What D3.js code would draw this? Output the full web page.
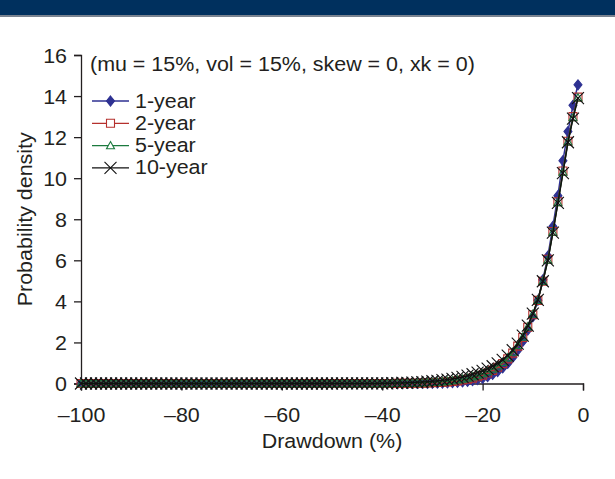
<!DOCTYPE html>
<html>
<head>
<meta charset="utf-8">
<script src="https://cdn.jsdelivr.net/npm/d3@7"></script>
<style>
  html, body { margin: 0; padding: 0; background: #ffffff; }
  svg { display: block; }
  text { font-family: "Liberation Sans", Arial, Helvetica, sans-serif; fill: #231f20; }
</style>
</head>
<body>
<svg id="chart" width="615" height="479"></svg>
<script>
// ---------------- DATA ----------------
const drawdown = [
  -1, -2, -3, -4, -5, -6, -7, -8, -9, -10,
  -11, -12, -13, -14, -15, -16, -17, -18, -19, -20,
  -21, -22, -23, -24, -25, -26, -27, -28, -29, -30,
  -31, -32, -33, -34, -35, -36, -37, -38, -39, -40,
  -41, -42, -43, -44, -45, -46, -47, -48, -49, -50,
  -51, -52, -53, -54, -55, -56, -57, -58, -59, -60,
  -61, -62, -63, -64, -65, -66, -67, -68, -69, -70,
  -71, -72, -73, -74, -75, -76, -77, -78, -79, -80,
  -81, -82, -83, -84, -85, -86, -87, -88, -89, -90,
  -91, -92, -93, -94, -95, -96, -97, -98, -99, -100
];
const year1 = [
  14.55, 13.55, 12.27, 10.85, 9.15, 7.65, 6.2, 5.05, 4.05, 3.25,
  2.6, 2.05, 1.62, 1.27, 0.98, 0.76, 0.58, 0.44, 0.33, 0.25,
  0.19, 0.14, 0.1, 0.075, 0.055, 0.04, 0.028, 0.02, 0.014, 0.01,
  0.007, 0.005, 0.003, 0.002, 0.001, 0, 0, 0, 0, 0,
  0, 0, 0, 0, 0, 0, 0, 0, 0, 0,
  0, 0, 0, 0, 0, 0, 0, 0, 0, 0,
  0, 0, 0, 0, 0, 0, 0, 0, 0, 0,
  0, 0, 0, 0, 0, 0, 0, 0, 0, 0,
  0, 0, 0, 0, 0, 0, 0, 0, 0, 0,
  0, 0, 0, 0, 0, 0, 0, 0, 0, 0
];
const year2 = [
  13.95, 13.0, 11.8, 10.35, 8.85, 7.4, 6.05, 4.98, 4.05, 3.35,
  2.74, 2.24, 1.82, 1.48, 1.2, 0.97, 0.79, 0.64, 0.51, 0.41,
  0.33, 0.26, 0.21, 0.17, 0.13, 0.1, 0.08, 0.06, 0.047, 0.036,
  0.027, 0.02, 0.015, 0.011, 0.008, 0.006, 0.004, 0.003, 0.002, 0.001,
  0, 0, 0, 0, 0, 0, 0, 0, 0, 0,
  0, 0, 0, 0, 0, 0, 0, 0, 0, 0,
  0, 0, 0, 0, 0, 0, 0, 0, 0, 0,
  0, 0, 0, 0, 0, 0, 0, 0, 0, 0,
  0, 0, 0, 0, 0, 0, 0, 0, 0, 0,
  0, 0, 0, 0, 0, 0, 0, 0, 0, 0
];
const year5 = [
  13.92, 12.95, 11.78, 10.3, 8.82, 7.38, 6.02, 4.98, 4.06, 3.38,
  2.77, 2.27, 1.86, 1.53, 1.26, 1.03, 0.86, 0.71, 0.59, 0.49,
  0.4, 0.33, 0.27, 0.22, 0.18, 0.145, 0.115, 0.09, 0.072, 0.057,
  0.045, 0.035, 0.027, 0.021, 0.016, 0.012, 0.009, 0.007, 0.005, 0.004,
  0.003, 0.002, 0.001, 0, 0, 0, 0, 0, 0, 0,
  0, 0, 0, 0, 0, 0, 0, 0, 0, 0,
  0, 0, 0, 0, 0, 0, 0, 0, 0, 0,
  0, 0, 0, 0, 0, 0, 0, 0, 0, 0,
  0, 0, 0, 0, 0, 0, 0, 0, 0, 0,
  0, 0, 0, 0, 0, 0, 0, 0, 0, 0
];
const year10 = [
  13.9, 12.9, 11.75, 10.25, 8.8, 7.35, 6.0, 4.98, 4.07, 3.4,
  2.82, 2.33, 1.94, 1.62, 1.36, 1.15, 0.98, 0.84, 0.72, 0.62,
  0.53, 0.45, 0.38, 0.32, 0.27, 0.23, 0.19, 0.16, 0.13, 0.11,
  0.09, 0.07, 0.055, 0.045, 0.035, 0.027, 0.02, 0.015, 0.011, 0.008,
  0.006, 0.005, 0.004, 0.003, 0.002, 0.002, 0.001, 0.001, 0.001, 0,
  0, 0, 0, 0, 0, 0, 0, 0, 0, 0,
  0, 0, 0, 0, 0, 0, 0, 0, 0, 0,
  0, 0, 0, 0, 0, 0, 0, 0, 0, 0,
  0, 0, 0, 0, 0, 0, 0, 0, 0, 0,
  0, 0, 0, 0, 0, 0, 0, 0, 0, 0
];
const seriesNames = ["1-year", "2-year", "5-year", "10-year"];
const xTicks = [-100, -80, -60, -40, -20, 0];
const yTicks = [0, 2, 4, 6, 8, 10, 12, 14, 16];
const annotation = "(mu = 15%, vol = 15%, skew = 0, xk = 0)";
const xTitle = "Drawdown (%)";
const yTitle = "Probability density";

// ---------------- STYLE ----------------
const seriesValues = [year1, year2, year5, year10];
const colors = ["#2e3192", "#b5302d", "#1b7a3e", "#111111"];
const markerPaths = [
  "M0,-5L4,0L0,5L-4,0Z",           // diamond
  "M-4,-4H4V4H-4Z",                 // square
  "M0,-4L4,3.2L-4,3.2Z",            // triangle
  "M-6,-6L6,6M-6,6L6,-6"            // X
];
const markerFill = ["#2e3192", "none", "none", "none"];
const SX = 1.1;        // horizontal text stretch
const FS = 19.5;       // font size

const svg = d3.select("#chart");

// header band
svg.append("rect").attr("x", 0).attr("y", 0).attr("width", 615).attr("height", 15).attr("fill", "#00305e");
svg.append("rect").attr("x", 0).attr("y", 15).attr("width", 615).attr("height", 2).attr("fill", "#7a8390");

const x = d3.scaleLinear().domain([-100, 0]).range([81, 583]);
const y = d3.scaleLinear().domain([0, 16]).range([383.5, 55]);

// axes
const xAxis = svg.append("g")
  .attr("transform", `translate(0,${y(0)})`)
  .call(d3.axisBottom(x).tickValues(xTicks).tickSize(7)
        .tickFormat(d => d < 0 ? "\u2013" + Math.abs(d) : String(d)));
xAxis.select(".domain").attr("stroke", "#231f20").attr("stroke-width", 1.3);
xAxis.selectAll(".tick line").attr("stroke", "#231f20").attr("stroke-width", 1.3);
xAxis.selectAll(".tick text")
  .attr("y", 38.5).attr("dy", null)
  .attr("transform", `scale(${SX},1)`)
  .style("font-size", FS + "px")
  .attr("fill", "#231f20");

const yAxis = svg.append("g")
  .attr("transform", `translate(${x(-100)},0)`)
  .call(d3.axisLeft(y).tickValues(yTicks).tickSize(7).tickFormat(d3.format("d")));
yAxis.select(".domain").attr("stroke", "#231f20").attr("stroke-width", 1.3);
yAxis.selectAll(".tick line").attr("stroke", "#231f20").attr("stroke-width", 1.3);
yAxis.selectAll(".tick text")
  .attr("x", -14 / SX).attr("dy", "0.36em")
  .attr("transform", `scale(${SX},1)`)
  .style("font-size", FS + "px")
  .attr("fill", "#231f20");

// axis titles
svg.append("text")
  .attr("transform", `translate(${(x(-100) + x(0)) / 2},448) scale(${SX},1)`)
  .attr("text-anchor", "middle")
  .style("font-size", FS + "px")
  .text(xTitle);
svg.append("text")
  .attr("transform", `translate(32,${(y(0) + y(16)) / 2}) rotate(-90) scale(${SX},1)`)
  .attr("text-anchor", "middle")
  .style("font-size", FS + "px")
  .text(yTitle);

// annotation
svg.append("text")
  .attr("transform", `translate(90,71) scale(${SX},1)`)
  .style("font-size", FS + "px")
  .text(annotation);

// series
const line = d3.line().x(d => x(d[0])).y(d => y(d[1]));
seriesValues.forEach((vals, i) => {
  const pts = drawdown.map((d, j) => [d, vals[j]]);
  const g = svg.append("g");
  g.append("path").datum(pts)
    .attr("d", line)
    .attr("fill", "none")
    .attr("stroke", colors[i])
    .attr("stroke-width", 1.5);
  g.selectAll("path.m").data(pts).enter().append("path")
    .attr("class", "m")
    .attr("transform", d => `translate(${x(d[0])},${y(d[1])})`)
    .attr("d", markerPaths[i])
    .attr("fill", markerFill[i])
    .attr("stroke", colors[i])
    .attr("stroke-width", 1.1);
});

// legend
const legendY = [101, 123.3, 145.6, 167.9];
seriesNames.forEach((name, i) => {
  const g = svg.append("g").attr("transform", `translate(0,${legendY[i]})`);
  g.append("line").attr("x1", 92).attr("x2", 129).attr("y1", 0).attr("y2", 0)
    .attr("stroke", colors[i]).attr("stroke-width", 1.3);
  g.append("path").attr("transform", "translate(110.5,0)")
    .attr("d", markerPaths[i])
    .attr("fill", markerFill[i] === "none" ? "#ffffff" : markerFill[i])
    .attr("stroke", colors[i]).attr("stroke-width", 1.1);
  g.append("text")
    .attr("transform", `translate(135,6.5) scale(${SX},1)`)
    .style("font-size", FS + "px")
    .text(name);
});
</script>
</body>
</html>
